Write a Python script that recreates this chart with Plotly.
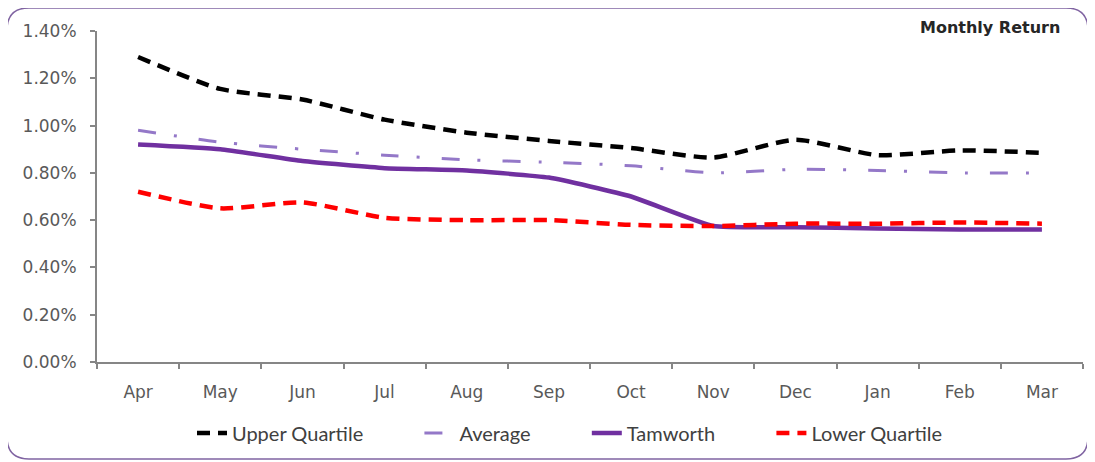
import plotly.graph_objects as go

months = ["Apr", "May", "Jun", "Jul", "Aug", "Sep", "Oct", "Nov", "Dec", "Jan", "Feb", "Mar"]
upper_quartile = [1.29, 1.155, 1.11, 1.025, 0.97, 0.935, 0.905, 0.865, 0.94, 0.875, 0.895, 0.885]
average = [0.98, 0.93, 0.90, 0.875, 0.855, 0.845, 0.83, 0.80, 0.815, 0.81, 0.80, 0.80]
tamworth = [0.92, 0.90, 0.85, 0.82, 0.81, 0.78, 0.70, 0.575, 0.57, 0.565, 0.56, 0.56]
lower_quartile = [0.72, 0.65, 0.675, 0.61, 0.60, 0.60, 0.58, 0.575, 0.585, 0.585, 0.59, 0.585]
y_ticks = [0.0, 0.2, 0.4, 0.6, 0.8, 1.0, 1.2, 1.4]

def pct(vals):
    return [v / 100 for v in vals]

PAD = "\u00a0" * 10

fig = go.Figure()
fig.add_trace(go.Scatter(x=months, y=pct(upper_quartile), name="Upper Quartile" + PAD, mode="lines",
                         line=dict(color="#000000", width=4.5, dash="13px,8px", shape="spline", smoothing=0.6)))
fig.add_trace(go.Scatter(x=months, y=pct(average), name="Average" + PAD, mode="lines",
                         line=dict(color="#9478c8", width=3, dash="18px,18px,3px,22px", shape="spline", smoothing=0.6)))
fig.add_trace(go.Scatter(x=months, y=pct(tamworth), name="Tamworth" + PAD, mode="lines",
                         line=dict(color="#7030a0", width=4.5, shape="spline", smoothing=0.4)))
fig.add_trace(go.Scatter(x=months, y=pct(lower_quartile), name="Lower Quartile", mode="lines",
                         line=dict(color="#ff0000", width=4.5, dash="13px,8px", shape="spline", smoothing=0.6)))

OFF = 8  # page body margin
W, H = 1095 - OFF, 462 - OFF
L = 97 - OFF
T = 31 - OFF
R = W - (1083 - OFF)
B = H - (362 - OFF)
pw, ph = W - L - R, H - T - B

def px(x):  # screen px -> paper
    return (x - OFF - L) / pw

def py(y):
    return (H - B - (y - OFF)) / ph

x0, x1, y0, y1 = px(7), px(1088), py(8), py(459)
rx, ry = 22 / pw, 22 / ph
path = (f"M {x0+rx},{y0} L {x1-rx},{y0} Q {x1},{y0} {x1},{y0-ry} "
        f"L {x1},{y1+ry} Q {x1},{y1} {x1-rx},{y1} L {x0+rx},{y1} Q {x0},{y1} {x0},{y1+ry} "
        f"L {x0},{y0-ry} Q {x0},{y0} {x0+rx},{y0} Z")

fig.update_layout(
    width=W, height=H,
    margin=dict(l=L, r=R, t=T, b=B, autoexpand=False),
    paper_bgcolor="white", plot_bgcolor="white",
    font=dict(family="DejaVu Sans", size=17, color="#595959"),
    showlegend=True,
    legend=dict(orientation="h", x=px(192), xanchor="left", y=py(433), yanchor="middle",
                font=dict(family="Lato", size=20, color="#404040"),
                bgcolor="rgba(0,0,0,0)"),
    shapes=[dict(type="path", path=path, xref="paper", yref="paper",
                 line=dict(color="#8064a2", width=1.5), fillcolor="rgba(0,0,0,0)", layer="below")],
    annotations=[dict(text="<b>Monthly Return</b>", xref="paper", yref="paper",
                      x=px(1062), y=py(28), xanchor="right", yanchor="middle", showarrow=False,
                      font=dict(family="DejaVu Sans", size=16, color="#262626"))],
)
fig.update_xaxes(range=[-0.5, 11.5], showgrid=False, showline=True, linecolor="#868686", linewidth=2,
                 ticks="outside", tickson="boundaries", ticklen=5, tickcolor="#868686", tickwidth=1.5,
                 automargin=False, ticklabelstandoff=14,
                 tickfont=dict(family="DejaVu Sans", size=17, color="#595959"))
fig.update_yaxes(range=[0, 0.014], tickvals=[v / 100 for v in y_ticks], tickformat=".2%",
                 showgrid=False, zeroline=False, showline=True, linecolor="#868686", linewidth=2,
                 ticks="outside", ticklen=5, tickcolor="#868686", tickwidth=1.5,
                 automargin=False, ticklabelstandoff=10,
                 tickfont=dict(family="DejaVu Sans", size=17, color="#595959"))

fig.write_html("out.html")
